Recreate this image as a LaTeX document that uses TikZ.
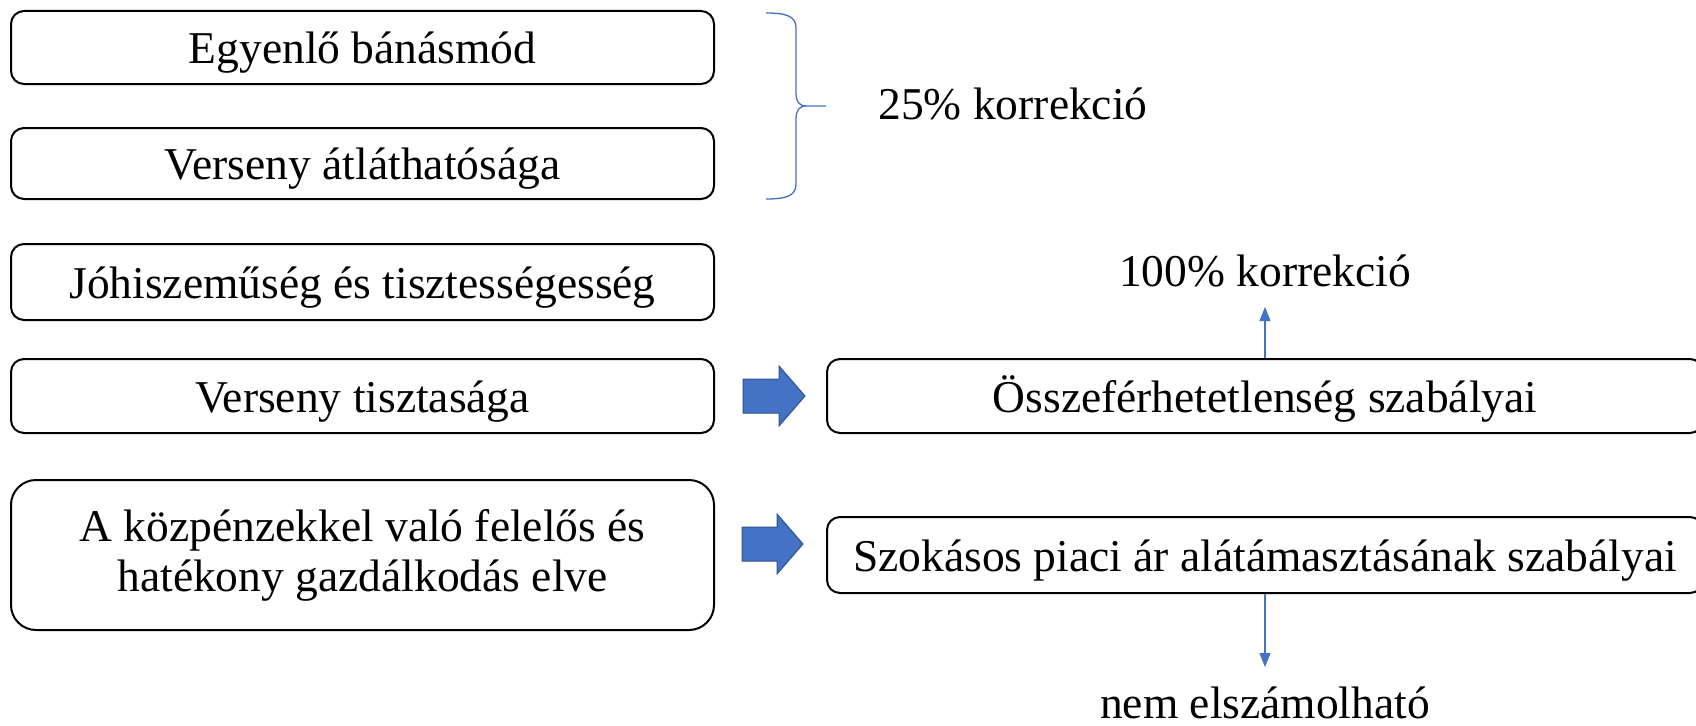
\documentclass[tikz,border=0pt]{standalone}
\usepackage{fontspec}
\setmainfont{Liberation Serif}
\usetikzlibrary{arrows.meta}
\definecolor{ofblue}{HTML}{4472C4}
\definecolor{ofblueline}{HTML}{2F528F}
\tikzset{
  box/.style={draw=black, line width=2pt, rounded corners=13pt, align=center,
    inner sep=0pt, font=\fontsize{45.5}{50}\selectfont},
  oneline/.style={text height=42pt, text depth=10pt},
  lbox/.style={box, minimum width=703pt},
  rbox/.style={box, oneline, minimum width=876pt},
  lbl/.style={inner sep=0pt, font=\fontsize{45.5}{50}\selectfont},
  thinarrow/.style={draw=ofblue, line width=1.3pt, -{Triangle[length=14pt,width=11pt]}},
  blockarrow/.style={fill=ofblue, draw=ofblueline, line width=1pt},
  bracestyle/.style={draw=ofblue, line width=1.3pt}
}
\begin{document}
\begin{tikzpicture}[x=1pt,y=-1pt]
\useasboundingbox (0,0) rectangle (1696,725);
\clip (0,0) rectangle (1696,725);
\node[lbox, oneline, minimum height=73pt] (b1) at (362.5,47.5) {Egyenlő bánásmód};
\node[lbox, oneline, minimum height=71pt] (b2) at (362.5,163.5) {Verseny átláthatósága};
\node[lbox, oneline, minimum height=76pt] (b3) at (362.5,282) {Jóhiszeműség és tisztességesség};
\node[lbox, oneline, minimum height=74pt] (b4) at (362.5,396) {Verseny tisztasága};
\node[lbox, minimum height=150pt, rounded corners=25pt] (b5) at (362.5,555) {A közpénzekkel való felelős és\\hatékony gazdálkodás elve};
\node[rbox, minimum height=74pt] (r1) at (1265,396) {Összeférhetetlenség szabályai};
\node[rbox, minimum height=76pt] (r2) at (1265,555) {Szokásos piaci ár alátámasztásának szabályai};
% brace
\coordinate (brtop) at (766,13);
\coordinate (brbot) at (766,199);
\coordinate (brtip) at (826,106);
\draw[bracestyle] (brtop) .. controls (786,13) and (796,16) .. (796,28)
  -- (796,94) .. controls (796,101) and (799,106) .. (806,106) -- (brtip);
\draw[bracestyle] (brbot) .. controls (786,199) and (796,196) .. (796,184)
  -- (796,118) .. controls (796,111) and (799,106) .. (806,106);
\node[lbl] (k25) at (1013,104) {25\% korrekció};
\node[lbl] (k100) at (1265,271) {100\% korrekció};
\node[lbl, anchor=base] (nem) at (1265,718) {nem elszámolható};
\coordinate (uptip) at (1265,307);
\coordinate (downtip) at (1265,667);
\draw[thinarrow] (r1.north) -- (uptip);
\draw[thinarrow] (r2.south) -- (downtip);
% block arrows
\draw[blockarrow] (743,379) -- (779,379) -- (779,366) -- (805,396) -- (779,426) -- (779,413) -- (743,413) -- cycle;
\draw[blockarrow] (742,527) -- (777,527) -- (777,514) -- (803,544) -- (777,574) -- (777,561) -- (742,561) -- cycle;
\end{tikzpicture}
\end{document}
